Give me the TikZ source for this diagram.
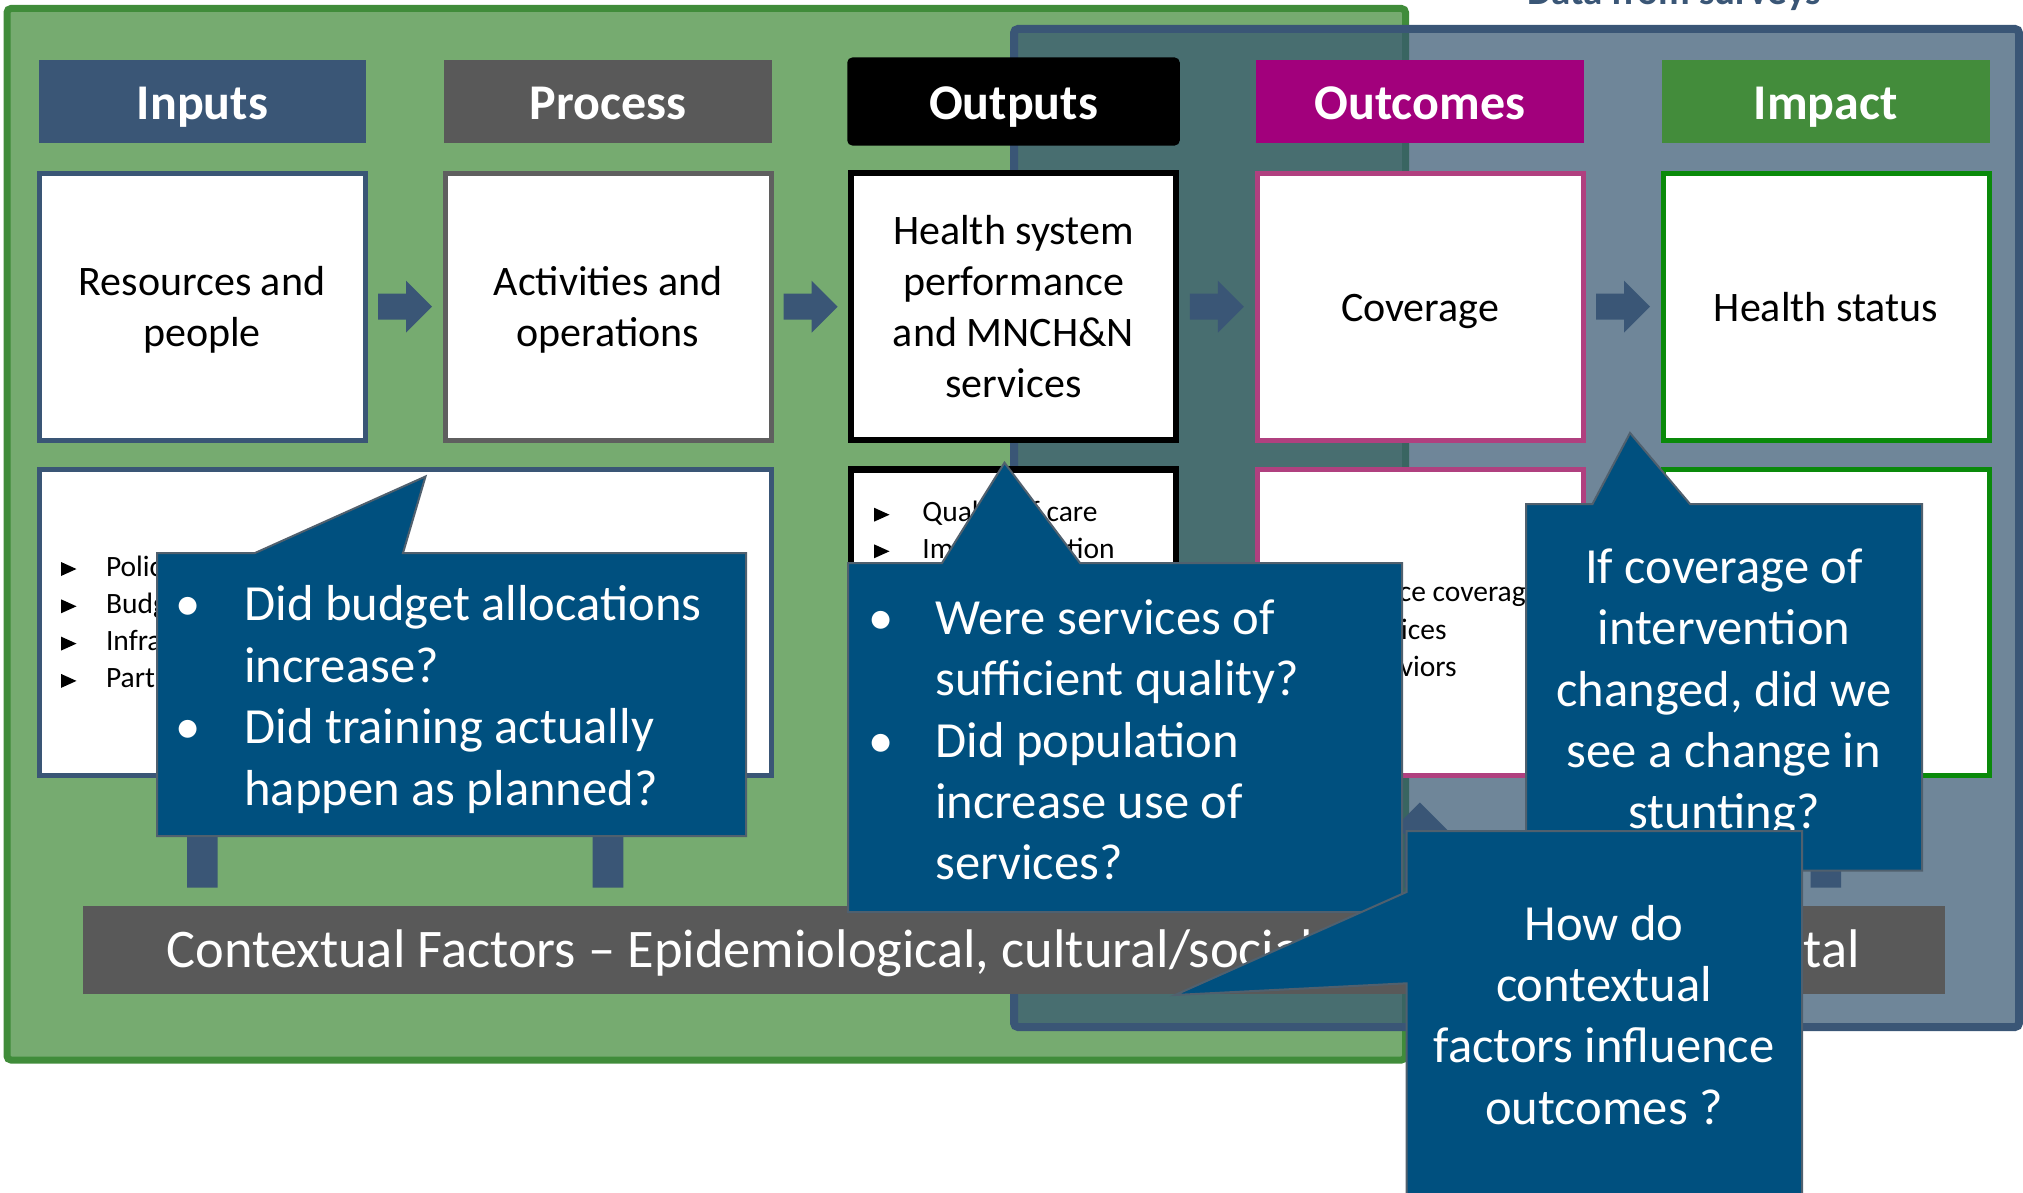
\documentclass[tikz,border=0pt]{standalone}
\usepackage{fontspec}
\setmainfont{Carlito}
\usetikzlibrary{calc}
\newdimen\pxu \pxu=0.5pt
\definecolor{slate}{HTML}{3A5676}
\definecolor{blfill}{HTML}{375771}
\definecolor{lgreen}{HTML}{76AB70}
\definecolor{dgreen}{HTML}{408C3A}
\definecolor{procg}{HTML}{595959}
\definecolor{procbd}{HTML}{5F5F5F}
\definecolor{outm}{HTML}{A2007C}
\definecolor{outmb}{HTML}{B0407F}
\definecolor{impg}{HTML}{438C3B}
\definecolor{impb}{HTML}{0A8A0A}
\definecolor{callc}{HTML}{00507F}
\definecolor{callb}{HTML}{50606E}
\newcommand\mlc[1]{\begin{tabular}[t]{@{}c@{}}#1\end{tabular}}
\newcommand\mll[1]{\begin{tabular}[t]{@{}l@{}}#1\end{tabular}}
\newcommand\harrow[1]{\fill[slate] ($(#1)+(-27,-13)$) -- ($(#1)+(1,-13)$) -- ($(#1)+(1,-26)$) -- ($(#1)+(27,0)$) -- ($(#1)+(1,26)$) -- ($(#1)+(1,13)$) -- ($(#1)+(-27,13)$) -- cycle;}
\newcommand\varrow[1]{\fill[slate] (#1) -- ($(#1)+(31,31)$) -- ($(#1)+(15.3,31)$) -- ($(#1)+(15.3,85)$) -- ($(#1)+(-15.3,85)$) -- ($(#1)+(-15.3,31)$) -- ($(#1)+(-31,31)$) -- cycle;}
\newcommand\tri[2]{\fill[black] (#1,#2-14) -- (#1+15.5,#2-7) -- (#1,#2) -- cycle;}
\tikzset{
 hdr/.style={rectangle, inner sep=0pt, minimum width=327.5\pxu, minimum height=83\pxu, text=white, font=\fontsize{25}{30}\selectfont\bfseries, text height=18.2pt, text depth=0pt},
 ubox/.style={rectangle, fill=white, minimum width=326\pxu, minimum height=267\pxu, line width=2.5pt},
 lbox/.style={rectangle, fill=white, minimum width=326\pxu, minimum height=306\pxu, line width=2.5pt},
 btxt/.style={inner sep=0pt, anchor=base, font=\fontsize{21}{25.45}\selectfont},
 stxt/.style={inner sep=0pt, anchor=base west, font=\fontsize{14.75}{18.65}\selectfont},
 callout/.style={fill=callc, draw=callb, line width=1pt},
 qtxt/.style={inner sep=0pt, text=white, font=\fontsize{25.3}{30.7}\selectfont},
}
\begin{document}
\begin{tikzpicture}[x=0.5pt,y=-0.5pt]
\useasboundingbox (0,0) rectangle (2023,1193);
% frames
\draw[draw=dgreen, fill=lgreen, line width=3.5pt, rounded corners=2pt] (7,8.5) rectangle (1405.5,1060);
\node[anchor=base, inner sep=0pt, text=slate, font=\fontsize{19.5}{23}\selectfont\bfseries] (dfs) at (1674,5) {Data from surveys};
\draw[draw=slate, fill=blfill, fill opacity=0.72, line width=4pt, rounded corners=2pt] (1014,29) rectangle (2019,1027);
% headers
\node[hdr, fill=slate] (h1) at (202.4,101.5) {Inputs};
\node[hdr, fill=procg] (h2) at (608,101.5) {Process};
\node[hdr, fill=black, draw=black, line width=2.5pt, rounded corners=1.5pt] (h3) at (1013.5,101.5) {Outputs};
\node[hdr, fill=outm] (h4) at (1419.8,101.5) {Outcomes};
\node[hdr, fill=impg] (h5) at (1825.8,101.5) {Impact};
% upper boxes
\node[ubox, draw=slate] (b1) at (202,306.7) {};
\node[ubox, draw=procbd] (b2) at (608,306.7) {};
\node[ubox, draw=black, line width=3.25pt, minimum width=325\pxu] (b3) at (1013.5,306.7) {};
\node[ubox, draw=outmb] (b4) at (1420,306.7) {};
\node[ubox, draw=impb] (b5) at (1826,306.7) {};
\node[btxt] (t1) at ($(b1.center)+(0,-11.2)$) {\mlc{Resources and\\people}};
\node[btxt] (t2) at ($(b2.center)+(0,-11.2)$) {\mlc{Activities and\\operations}};
\node[btxt] (t3) at ($(b3.center)+(0,-61.8)$) {\mlc{Health system\\performance\\and MNCH\&N\\services}};
\node[btxt] (t4) at ($(b4.center)+(0,14.5)$) {Coverage};
\node[btxt] (t5) at ($(b5.center)+(0,14.5)$) {Health status};
% horizontal arrows
\path (b1.east) -- (b2.west) coordinate[midway] (a12);
\path (b2.east) -- (b3.west) coordinate[midway] (a23);
\path (b3.east) -- (b4.west) coordinate[midway] (a34);
\path (b4.east) -- (b5.west) coordinate[midway] (a45);
\harrow{a12}\harrow{a23}\harrow{a34}\harrow{a45}
% lower boxes
\node[lbox, draw=slate, minimum width=732\pxu] (l12) at (405,622.5) {};
\node[lbox, draw=black, line width=3.25pt, minimum width=325\pxu] (l3) at (1013.7,622.5) {};
\node[lbox, draw=outmb] (l4) at (1420,622.5) {};
\node[lbox, draw=impb] (l5) at (1826.5,622.5) {};
\node[stxt] (s1) at (105.6,576) {\mll{Policies\\Budget\\Infrastructure\\Partners}};
\foreach \yy in {576,613.3,650.6,687.9} {\tri{61}{\yy}}
\node[stxt, font=\fontsize{14.75}{18.3}\selectfont] (s3) at (922,521.7) {\mll{Quality of care\\Implementation}};
\foreach \yy in {521.7,558.3} {\tri{874}{\yy}}
\node[stxt] (s4) at (1339.5,601.7) {\mll{Service coverage\\Practices\\Behaviors}};
\foreach \yy in {601.7,639,676.3} {\tri{1293}{\yy}}
% vertical arrows from context
\foreach \h in {h1,h2,h3,h4,h5} {
  \coordinate (v-\h) at ($(\h.south |- l12.south)+(0,24.5)$);
  \varrow{v-\h}
}
% context bar
\node[fill=procg, inner sep=0pt, minimum width=1861.8\pxu, minimum height=88\pxu, text=white, font=\fontsize{27.2}{32}\selectfont, text height=17.9pt, text depth=0pt] (ctx) at (1013.7,950) {Contextual Factors – Epidemiological, cultural/social, political, environmental};
% callouts
\draw[callout] (157,553) -- (255,553) -- (425.5,476.5) -- (403,553) -- (746,553) -- (746,836) -- (157,836) -- cycle;
\node[qtxt, anchor=base west] (q1) at (175,620.8) {\begin{tabular}[t]{@{}p{34.5pt}@{}l@{}}•&Did budget allocations\\&increase?\\•&Did training actually\\&happen as planned?\end{tabular}};
\draw[callout] (848,563) -- (942,563) -- (1004.5,462.7) -- (1080,563) -- (1402,563) -- (1402,912) -- (848,912) -- cycle;
\node[qtxt, anchor=base west] (q2) at (867.7,634.2) {\begin{tabular}[t]{@{}p{33.6pt}@{}l@{}}•&Were services of\\&sufficient quality?\\•&Did population\\&increase use of\\&services?\end{tabular}};
\draw[callout] (1526,504) -- (1592.5,504) -- (1630,433) -- (1690,504) -- (1922,504) -- (1922,870.5) -- (1526,870.5) -- cycle;
\node[qtxt, anchor=base] (q4) at (1724,583.2) {\mlc{If coverage of\\intervention\\changed, did we\\see a change in\\stunting?}};
\draw[callout] (1406.5,831) -- (1802,831) -- (1802,1260) -- (1406.5,1260) -- (1406.5,983.3) -- (1175,995) -- (1406.5,892) -- cycle;
\node[qtxt, anchor=base] (q5) at (1604,940) {\mlc{How do\\contextual\\factors influence\\outcomes ?}};
\end{tikzpicture}
\end{document}
